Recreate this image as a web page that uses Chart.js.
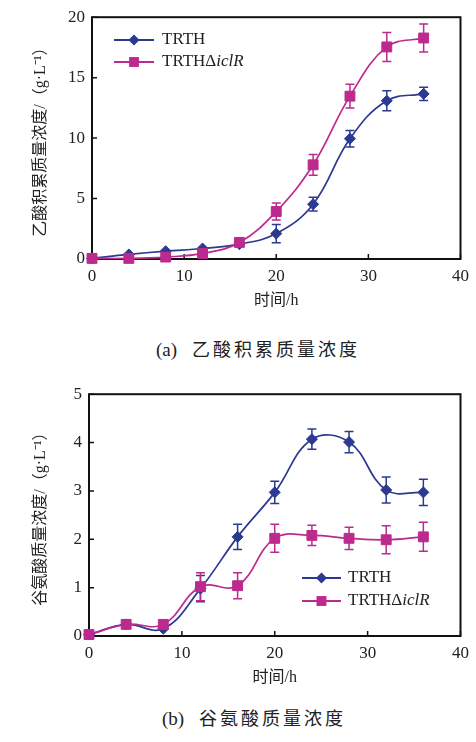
<!DOCTYPE html>
<html>
<head>
<meta charset="utf-8">
<script src="https://cdn.jsdelivr.net/npm/chart.js@4.4.0/dist/chart.umd.min.js"></script>
<style>
body { margin: 0; width: 476px; height: 742px; background: #fff; position: relative; overflow: hidden;
       font-family: 'Liberation Serif', 'Noto Sans CJK SC', serif; color: #222; }
.box { position: absolute; left: 0; width: 476px; height: 320px; }
.cap { position: absolute; left: 20px; width: 476px; text-align: center; font-size: 18px; letter-spacing: 3px; }
.cap span { letter-spacing: 0; font-size: 19px; }
</style>
</head>
<body>
<div class="box" style="top:0"><canvas id="acetate" width="476" height="320"></canvas></div>
<div class="cap" style="top:335px"><span>(a)</span>&nbsp; 乙酸积累质量浓度</div>
<div class="box" style="top:377px"><canvas id="glutamate" width="476" height="320"></canvas></div>
<div class="cap" style="top:704px; left:16px"><span>(b)</span>&nbsp; 谷氨酸质量浓度</div>
<script>
// ---------------- data ----------------
const hours = [0, 4, 8, 12, 16, 20, 24, 28, 32, 36];
const seriesNames = ['TRTH', 'TRTHΔiclR'];

// (a) acetate accumulation, g/L
const acetateTRTH = [0.05, 0.38, 0.65, 0.87, 1.23, 2.1, 4.53, 9.95, 13.09, 13.66];
const acetateTRTHErr = [0, 0, 0, 0, 0, 0.75, 0.57, 0.68, 0.82, 0.55];
const acetateIclR = [0.05, 0.05, 0.16, 0.46, 1.37, 3.93, 7.79, 13.47, 17.54, 18.28];
const acetateIclRErr = [0, 0, 0, 0, 0, 0.71, 0.86, 0.98, 1.2, 1.15];

// (b) glutamate, g/L
const gluTRTH = [0.03, 0.24, 0.15, 0.98, 2.05, 2.97, 4.07, 4.01, 3.02, 2.97];
const gluTRTHErr = [0, 0, 0, 0.27, 0.26, 0.23, 0.21, 0.22, 0.27, 0.27];
const gluIclR = [0.03, 0.24, 0.24, 1.02, 1.04, 2.02, 2.08, 2.02, 1.99, 2.05];
const gluIclRErr = [0, 0, 0, 0.29, 0.27, 0.29, 0.21, 0.23, 0.29, 0.3];

const BLUE = '#2b3990';
const MAGENTA = '#bd2a8e';
const FONT = "'Liberation Serif', 'Noto Sans CJK SC', serif";

function points(ys) {
    return hours.map((h, i) => ({ x: h, y: ys[i] }));
}

// frame, inward ticks and error bars (drawn under the markers)
const framePlugin = {
    id: 'frame',
    beforeDatasetsDraw(chart) {
        const { ctx, chartArea: a, scales: { x, y } } = chart;
        ctx.save();
        ctx.strokeStyle = '#111';
        ctx.lineWidth = 2;
        ctx.strokeRect(a.left, a.top, a.right - a.left, a.bottom - a.top);
        ctx.lineWidth = 1.5;
        ctx.beginPath();
        x.ticks.forEach(t => {
            const px = x.getPixelForValue(t.value);
            ctx.moveTo(px, a.bottom);
            ctx.lineTo(px, a.bottom - 5);
        });
        y.ticks.forEach(t => {
            const py = y.getPixelForValue(t.value);
            ctx.moveTo(a.left, py);
            ctx.lineTo(a.left + 5, py);
        });
        ctx.stroke();

        // error bars
        chart.data.datasets.forEach(ds => {
            if (!ds.err) return;
            ctx.strokeStyle = ds.borderColor;
            ctx.lineWidth = 1.5;
            ctx.beginPath();
            ds.data.forEach((p, i) => {
                const e = ds.err[i];
                if (!e) return;
                const px = x.getPixelForValue(p.x);
                const top = y.getPixelForValue(p.y + e);
                const bot = y.getPixelForValue(p.y - e);
                ctx.moveTo(px, top); ctx.lineTo(px, bot);
                ctx.moveTo(px - 4.5, top); ctx.lineTo(px + 4.5, top);
                ctx.moveTo(px - 4.5, bot); ctx.lineTo(px + 4.5, bot);
            });
            ctx.stroke();
        });
        ctx.restore();
    }
};

// legend: short line with marker, then label (iclR in italics)
function drawMarker(ctx, style, x, y, r) {
    ctx.beginPath();
    if (style === 'rectRot') {
        ctx.moveTo(x - r, y); ctx.lineTo(x, y - r); ctx.lineTo(x + r, y); ctx.lineTo(x, y + r);
    } else {
        const s = r * Math.SQRT1_2;
        ctx.rect(x - s, y - s, 2 * s, 2 * s);
    }
    ctx.closePath();
    ctx.fill();
}

const lineLegend = {
    id: 'lineLegend',
    afterDraw(chart, args, opts) {
        const ctx = chart.ctx;
        ctx.save();
        chart.data.datasets.forEach((ds, i) => {
            const y = opts.y + i * opts.dy;
            ctx.strokeStyle = ds.borderColor;
            ctx.fillStyle = ds.borderColor;
            ctx.lineWidth = 2;
            ctx.beginPath();
            ctx.moveTo(opts.x1, y);
            ctx.lineTo(opts.x2, y);
            ctx.stroke();
            drawMarker(ctx, ds.pointStyle, (opts.x1 + opts.x2) / 2, y, ds.pointRadius);

            ctx.fillStyle = '#222';
            ctx.textBaseline = 'middle';
            ctx.font = '17px ' + FONT;
            const name = ds.label;
            const cut = name.indexOf('Δ');
            if (cut < 0) {
                ctx.fillText(name, opts.tx, y);
            } else {
                const head = name.slice(0, cut + 1);
                ctx.fillText(head, opts.tx, y);
                const w = ctx.measureText(head).width;
                ctx.font = 'italic 17px ' + FONT;
                ctx.fillText(name.slice(cut + 1), opts.tx + w, y);
            }
        });
        ctx.restore();
    }
};

function makeChart(id, blueData, blueErr, magData, magErr, yMax, yStep, yTitle, left, right, legend) {
    const ctx = document.getElementById(id).getContext('2d');
    return new Chart(ctx, {
        type: 'line',
        data: {
            datasets: [{
                label: seriesNames[0],
                data: points(blueData),
                err: blueErr,
                borderColor: BLUE,
                backgroundColor: BLUE,
                borderWidth: 1.7,
                pointStyle: 'rectRot',
                pointRadius: 5.5,
                pointBorderWidth: 1,
                tension: 0.4,
                clip: false,
                order: 2
            }, {
                label: seriesNames[1],
                data: points(magData),
                err: magErr,
                borderColor: MAGENTA,
                backgroundColor: MAGENTA,
                borderWidth: 1.7,
                pointStyle: 'rect',
                pointRadius: 7,
                pointBorderWidth: 1,
                tension: 0.4,
                clip: false,
                order: 1
            }]
        },
        options: {
            responsive: false,
            animation: false,
            layout: { padding: { top: 15, right: right, left: 0, bottom: 0 } },
            plugins: {
                legend: { display: false },
                tooltip: { enabled: false },
                lineLegend: legend
            },
            scales: {
                x: {
                    type: 'linear',
                    min: 0,
                    max: 40,
                    grid: { display: false, drawTicks: false },
                    border: { display: false },
                    ticks: { stepSize: 10, padding: 7, color: '#222', font: { family: FONT, size: 17 } },
                    title: {
                        display: true,
                        text: '时间/h',
                        color: '#222',
                        font: { family: FONT, size: 16 },
                        padding: { top: 0, bottom: 10 }
                    },
                    afterFit(axis) { axis.height = 61; }
                },
                y: {
                    min: 0,
                    max: yMax,
                    grid: { display: false, drawTicks: false },
                    border: { display: false },
                    ticks: { stepSize: yStep, padding: 7, color: '#222', font: { family: FONT, size: 17 } },
                    title: {
                        display: true,
                        text: yTitle,
                        color: '#222',
                        font: { family: FONT, size: 16 },
                        padding: { top: 31, bottom: 0 }
                    },
                    afterFit(axis) { axis.width = left; }
                }
            }
        },
        plugins: [framePlugin, lineLegend]
    });
}

makeChart('acetate', acetateTRTH, acetateTRTHErr, acetateIclR, acetateIclRErr, 20, 5,
    '乙酸积累质量浓度/（g·L⁻¹）', 92, 15,
    { x1: 114, x2: 154, y: 40, dy: 22, tx: 162 });

makeChart('glutamate', gluTRTH, gluTRTHErr, gluIclR, gluIclRErr, 5, 1,
    '谷氨酸质量浓度/（g·L⁻¹）', 89, 13,
    { x1: 302, x2: 341, y: 578 - 377, dy: 23, tx: 348 });
</script>
</body>
</html>
